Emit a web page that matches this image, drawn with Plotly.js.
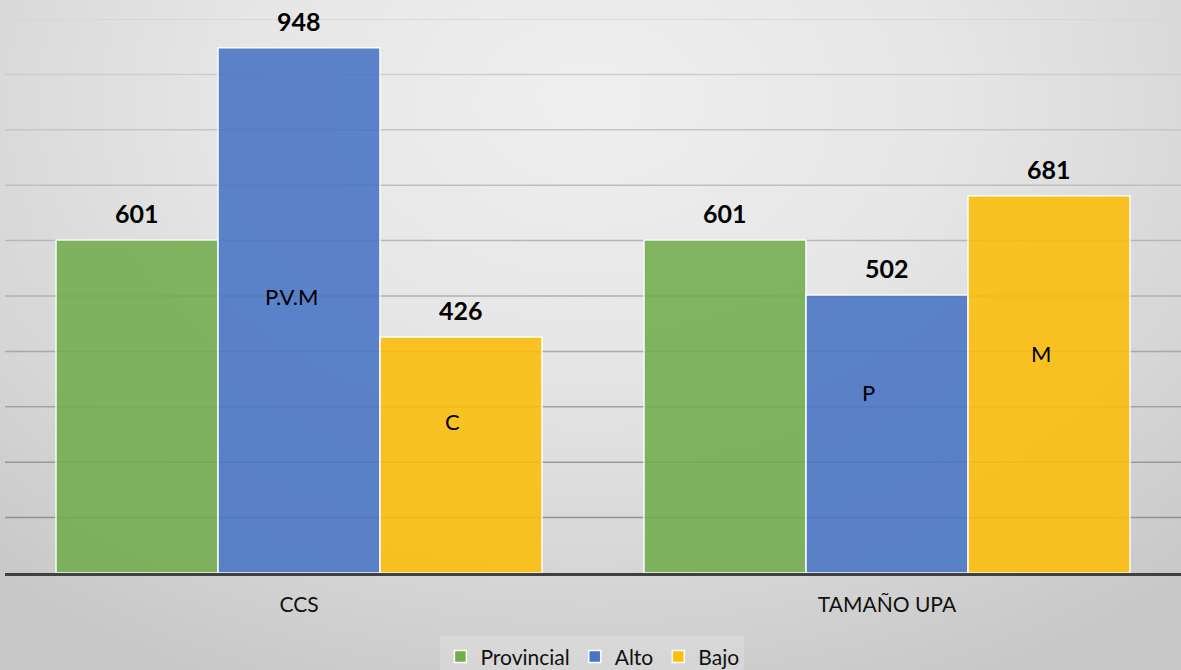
<!DOCTYPE html>
<html>
<head>
<meta charset="utf-8">
<script src="https://cdn.plot.ly/plotly-3.0.1.min.js"></script>
<style>
  html, body { margin: 0; padding: 0; }
  body {
    width: 1181px; height: 670px; overflow: hidden;
    background: radial-gradient(ellipse 75% 95% at 50% 15%, #efefef 0%, #e6e6e6 40%, #d6d6d6 75%, #c8c8c8 100%);
  }
  #chart { width: 1181px; height: 670px; }
</style>
</head>
<body>
<div id="chart"></div>
<script>
// ---- Data ----
const categories = ['CCS', 'TAMAÑO UPA'];
const seriesNames = ['Provincial', 'Alto', 'Bajo'];
const provincial = [601, 601];
const alto = [948, 502];
const bajo = [426, 681];
const altoLabels = ['P.V.M', 'P'];
const bajoLabels = ['C', 'M'];
const gridValues = [100, 200, 300, 400, 500, 600, 700, 800, 900, 1000];

// ---- Style ----
const FONT = 'Lato, "Open Sans", "DejaVu Sans", sans-serif';
const colors = ['rgb(114,173,77)', 'rgb(72,117,197)', 'rgb(252,190,8)'];
const BARGAP = 0.1735;
const barW = (1 - BARGAP) / 3;

const allSeries = [provincial, alto, bajo];
const traces = allSeries.map((vals, i) => ({
  type: 'bar',
  name: seriesNames[i],
  x: categories,
  y: vals,
  marker: { color: colors[i], opacity: 0.88, line: { color: '#ffffff', width: 1.5 } },
  hoverinfo: 'x+y+name'
}));

const annotations = [];
// value labels above bars
allSeries.forEach((vals, s) => {
  vals.forEach((v, c) => {
    annotations.push({
      x: c + (s - 1) * barW, y: v, xref: 'x', yref: 'y',
      text: '<b>' + v + '</b>', showarrow: false,
      yanchor: 'middle', yshift: 27,
      font: { family: FONT, size: 25, color: '#000000' }
    });
  });
});
// inner text labels (manual in the original)
const innerLabelY = { alto: [500, 326], bajo: [274, 397] };
const innerLabelShift = { alto: [-8, -19], bajo: [-8, -8] };
altoLabels.forEach((t, c) => annotations.push({
  x: c, y: innerLabelY.alto[c], xref: 'x', yref: 'y', text: t, showarrow: false,
  xshift: innerLabelShift.alto[c], yanchor: 'middle',
  font: { family: FONT, size: 22, color: '#000000' }
}));
bajoLabels.forEach((t, c) => annotations.push({
  x: c + barW, y: innerLabelY.bajo[c], xref: 'x', yref: 'y', text: t, showarrow: false,
  xshift: innerLabelShift.bajo[c], yanchor: 'middle',
  font: { family: FONT, size: 22, color: '#000000' }
}));

// gridlines as shapes, darker toward the bottom (like the gradient look)
const shapes = gridValues.map(v => {
  const t = v / 1000;
  const g = Math.round(140 + (212 - 140) * t);
  return {
    type: 'line', xref: 'paper', yref: 'y', x0: 0, x1: 1, y0: v, y1: v,
    layer: 'below', line: { color: `rgb(${g},${g},${g})`, width: 1.5 }
  };
});

const layout = {
  width: 1181, height: 670,
  margin: { l: 5, r: 0, t: 18.5, b: 97, pad: 0, autoexpand: false },
  paper_bgcolor: 'rgba(0,0,0,0)',
  plot_bgcolor: 'rgba(0,0,0,0)',
  barmode: 'group',
  bargap: BARGAP,
  bargroupgap: 0,
  font: { family: FONT, color: '#000000' },
  xaxis: {
    type: 'category',
    showline: true, linecolor: '#404040', linewidth: 3,
    showgrid: false, zeroline: false, ticks: '',
    tickfont: { family: FONT, size: 21, color: '#111111' },
    ticklabelstandoff: 11
  },
  yaxis: {
    range: [0, 1000], showgrid: false, zeroline: false,
    showticklabels: false, ticks: '', fixedrange: true
  },
  showlegend: true,
  legend: {
    orientation: 'h', x: 0.4995, xanchor: 'center',
    y: -0.1515, yanchor: 'middle',
    bgcolor: 'rgba(255,255,255,0.18)',
    font: { family: FONT, size: 21, color: '#111111' },
    itemwidth: 30, tracegroupgap: 0
  },
  annotations: annotations,
  shapes: shapes
};

Plotly.newPlot('chart', traces, layout, { displayModeBar: false, staticPlot: true });
</script>
</body>
</html>
